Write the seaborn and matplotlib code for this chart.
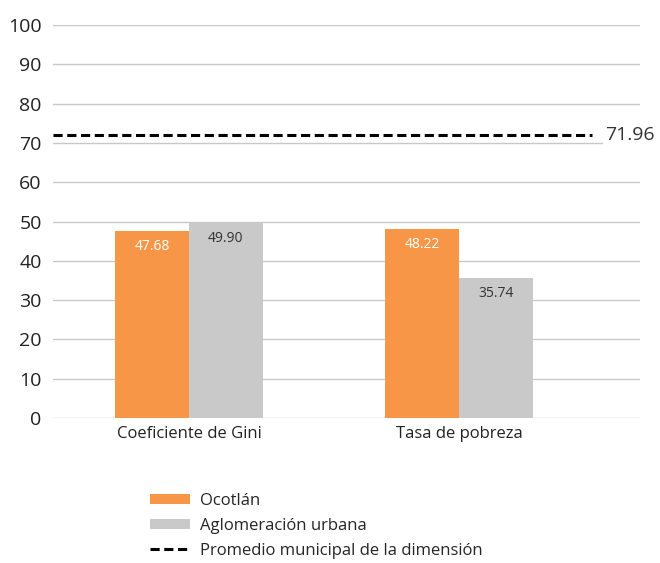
import pandas as pd
import matplotlib.pyplot as plt
import seaborn as sns
from matplotlib.patches import Patch
from matplotlib.lines import Line2D

# Data
indicadores = ["Coeficiente de Gini", "Tasa de pobreza"]
series = ["Ocotlán", "Aglomeración urbana"]
ocotlan = [47.68, 48.22]
aglomeracion = [49.90, 35.74]
promedio = 71.96

colores = ["#F79646", "#C9C9C9"]
label_colors = ["white", "#333333"]

df = pd.DataFrame({
    "indicador": indicadores * 2,
    "serie": [series[0]] * 2 + [series[1]] * 2,
    "valor": ocotlan + aglomeracion,
})

sns.set_style("white")
plt.rcParams['font.family'] = ['Open Sans', 'DejaVu Sans']

fig = plt.figure(figsize=(6.6, 5.63), dpi=100)
ax = fig.add_axes([0.080, 0.2575, 0.890, 0.698])

sns.barplot(
    data=df, x="indicador", y="valor", hue="serie",
    palette=colores, width=0.548, gap=0, saturation=1,
    linewidth=0, legend=False, ax=ax, zorder=2
)

# value labels inside bars
for cont, col in zip(ax.containers, label_colors):
    ax.bar_label(cont, fmt="%.2f", padding=-17, color=col, fontsize=10)

# gridlines
ax.set_ylim(0, 100)
ax.set_yticks(range(0, 101, 10))
ax.yaxis.grid(True, color="#C8C8C8", linewidth=1, zorder=0)
ax.set_axisbelow(True)
ax.set_xlim(-0.504, 1.67)
sns.despine(ax=ax, left=True, bottom=True)

# municipal average
dash = (0, (3, 1.5))
ax.axhline(promedio, xmin=0, xmax=0.918, color="black", linestyle=dash,
           linewidth=2.2, zorder=3)
ax.text(0.983, promedio, f"{promedio:.2f}", transform=ax.get_yaxis_transform(),
        ha="center", va="center", fontsize=14, color="#333333",
        bbox=dict(facecolor="white", edgecolor="none", pad=2))

ax.set_xlabel("")
ax.set_ylabel("")
ax.tick_params(axis="y", labelsize=14, length=0, pad=8, colors="#222222")
ax.tick_params(axis="x", labelsize=12, length=0, pad=6, colors="#222222")

handles = [
    Patch(facecolor=colores[0], edgecolor="none"),
    Patch(facecolor=colores[1], edgecolor="none"),
    Line2D([0], [0], color="black", linestyle=dash, linewidth=2.2),
]
fig.legend(handles, series + ["Promedio municipal de la dimensión"],
           loc="upper left", bbox_to_anchor=(0.217, 0.137), frameon=False,
           fontsize=12, handlelength=2.4, handleheight=0.55,
           labelspacing=0.55, handletextpad=0.6, borderaxespad=0)

plt.savefig("out.png", dpi=100)
